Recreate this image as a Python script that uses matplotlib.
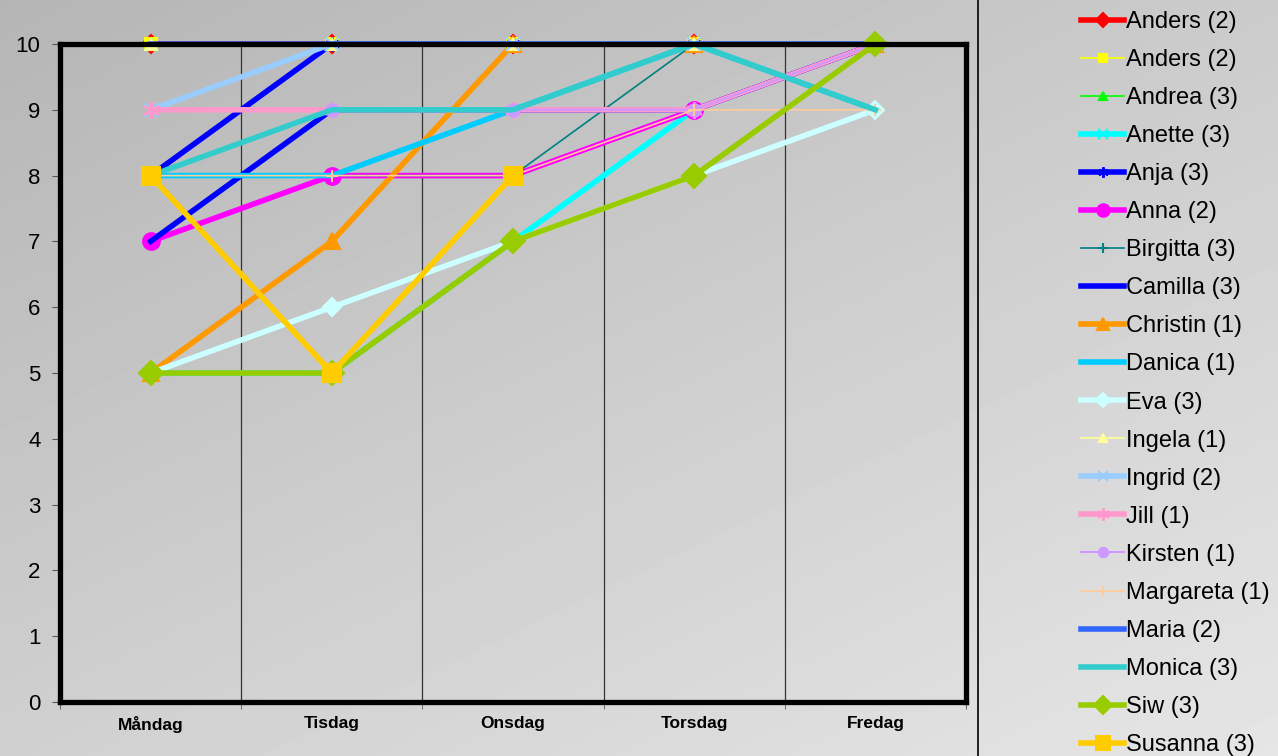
import matplotlib.pyplot as plt
import numpy as np

nan = np.nan
dagar = ["Måndag", "Tisdag", "Onsdag", "Torsdag", "Fredag"]

# poäng per person och dag
anders_1 = [10, 10, 10, 10, 10]
anders_2 = [10, 10, 10, 10, 10]
andrea = [10, 10, 10, 10, 10]
anette = [5, 5, 7, 9, 10]
anja = [8, 10, 10, 10, 10]
anna = [7, 8, 8, 9, 10]
birgitta = [8, 8, 8, 10, 10]
camilla = [7, 9, 9, 9, 10]
christin = [5, 7, 10, 10, 10]
danica = [8, 8, 9, 10, 9]
eva = [5, 6, 7, 8, 9]
ingela = [10, 10, 10, 10, 10]
ingrid = [9, 10, 10, 10, 10]
jill = [9, 9, 9, 9, 10]
kirsten = [8, 9, 9, 9, 10]
margareta = [8, 8, 8, 9, 9]
maria = [10, 10, 10, 10, 10]
monica = [8, 9, 9, 10, 9]
siw = [5, 5, 7, 8, 10]
susanna = [8, 5, 8, nan, nan]

asterisk = (6, 2, 0)
# (namn, data, färg, linjebredd, markör, markörstorlek)
serier = [
    ("Anders (2)", anders_1, "#FF0000", 4.0, "D", 9),
    ("Anders (2)", anders_2, "#FFFF00", 1.2, "s", 8),
    ("Andrea (3)", andrea, "#00FF00", 1.2, "^", 8),
    ("Anette (3)", anette, "#00FFFF", 4.0, "x", 9),
    ("Anja (3)", anja, "#0000FF", 4.0, asterisk, 10),
    ("Anna (2)", anna, "#FF00FF", 4.0, "o", 12),
    ("Birgitta (3)", birgitta, "#008080", 1.2, "+", 9),
    ("Camilla (3)", camilla, "#0000FF", 4.0, None, 0),
    ("Christin (1)", christin, "#FF9900", 4.0, "^", 12),
    ("Danica (1)", danica, "#00CCFF", 4.0, None, 0),
    ("Eva (3)", eva, "#CCFFFF", 4.0, "D", 9),
    ("Ingela (1)", ingela, "#FFFF99", 1.2, "^", 8),
    ("Ingrid (2)", ingrid, "#99CCFF", 4.0, "x", 10),
    ("Jill (1)", jill, "#FF99CC", 4.0, asterisk, 12),
    ("Kirsten (1)", kirsten, "#CC99FF", 1.5, "o", 9),
    ("Margareta (1)", margareta, "#FFCC99", 1.2, "+", 9),
    ("Maria (2)", maria, "#3366FF", 4.0, None, 0),
    ("Monica (3)", monica, "#33CCCC", 4.0, None, 0),
    ("Siw (3)", siw, "#99CC00", 4.0, "D", 12),
    ("Susanna (3)", susanna, "#FFCC00", 4.0, "s", 13),
]

plt.rcParams["font.family"] = ["Liberation Sans", "DejaVu Sans"]

fig = plt.figure(figsize=(12.78, 7.56), dpi=100)

# grå bakgrund med toning
bg = fig.add_axes([0, 0, 1, 1], zorder=-10)
yy, xx = np.mgrid[0:1:200j, 0:1:300j]
ton = 0.71 + 0.19 * (0.45 * xx + 0.55 * yy)
bg.imshow(ton, cmap="gray", vmin=0, vmax=1, aspect="auto", extent=[0, 1, 0, 1], origin="upper")
bg.axis("off")
bg.plot([978 / 1278, 978 / 1278], [0, 1], color="black", lw=1.2, transform=bg.transAxes)
bg.set_xlim(0, 1)
bg.set_ylim(0, 1)

ax = fig.add_axes([60 / 1278, 1 - 702 / 756, (966 - 60) / 1278, (702 - 44) / 756])
ax.patch.set_alpha(0)

x = np.arange(len(dagar))
for namn, data, farg, lw, mark, ms in serier:
    ax.plot(x, data, color=farg, lw=lw, marker=mark, markersize=ms,
            markeredgecolor=farg, markerfacecolor=farg, markeredgewidth=1.5,
            label=namn, clip_on=False, solid_joinstyle="round")

ax.set_xlim(-0.5, 4.5)
ax.set_ylim(0, 10)
for gx in np.arange(0.5, 4.5, 1):
    ax.axvline(gx, color="#333333", lw=0.9, zorder=0)

ax.set_yticks(range(0, 11))
ax.set_xticks(x)
ax.set_xticklabels(dagar, fontsize=12.5, fontweight="bold")
ax.set_xticks(np.arange(-0.5, 5, 1), minor=True)
ax.tick_params(axis="x", which="major", length=0, pad=10)
ax.tick_params(axis="x", which="minor", length=5, color="#555555", direction="out")
ax.tick_params(axis="y", labelsize=16, length=6, color="#555555", pad=8)
for s in ax.spines.values():
    s.set_linewidth(3.8)
    s.set_color("black")

fig.legend(loc="upper left", bbox_to_anchor=(1072 / 1278, 0.998), frameon=False,
           fontsize=17, handlelength=1.8, handletextpad=0.1, labelspacing=0.68,
           borderaxespad=0.0, markerscale=0.75)

fig.savefig("out.png", dpi=100)
